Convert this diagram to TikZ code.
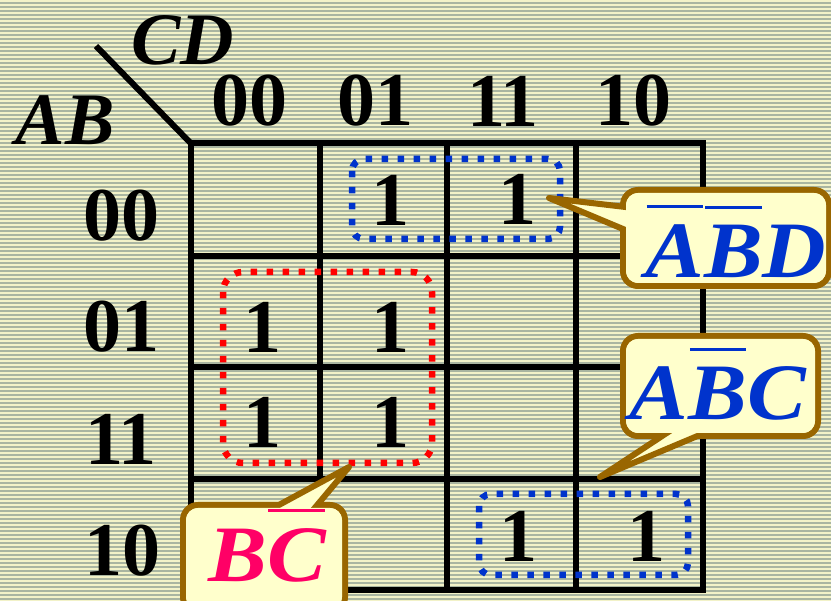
\documentclass[tikz,border=0pt]{standalone}
\usepackage{fontspec}
\usepackage{graphicx}
\setmainfont{Liberation Serif}
\usetikzlibrary{positioning,calc}

\definecolor{bgcream}{HTML}{F2F2C8}
\definecolor{bgstripe}{HTML}{A9B5A1}
\definecolor{callfill}{HTML}{FFFFCC}
\definecolor{callborder}{HTML}{996600}
\definecolor{grpblue}{HTML}{0033CC}
\definecolor{grpred}{HTML}{FF0000}
\definecolor{termpink}{HTML}{FF0066}

\newcommand{\kfont}{\fontsize{76}{80}\selectfont\bfseries}
\newcommand{\tfont}{\fontsize{80}{84}\selectfont\bfseries\itshape}
% bar over one letter, raised well above it
\newcommand{\ovl}[1]{\setbox0=\hbox{#1}\rlap{\raise\dimexpr\ht0+17pt\relax\hbox{\kern1pt\rule{\dimexpr\wd0-2pt\relax}{3pt}}}\box0}
\newcommand{\wideterm}[1]{\scalebox{1.1}[1]{#1}}

\begin{document}
\begin{tikzpicture}[
  x=1pt,y=-1pt,
  gridline/.style={line width=6pt,black},
  cellval/.style={font=\kfont,inner sep=0pt},
  varlabel/.style={font=\fontsize{74}{78}\selectfont\bfseries\itshape,inner sep=0pt},
  term/.style={font=\tfont,inner sep=0pt,anchor=base},
  bluegroup/.style={grpblue,line width=6.5pt,dash pattern=on 6.5pt off 9.5pt,rounded corners=12pt},
  redgroup/.style={grpred,line width=6.5pt,dash pattern=on 6.5pt off 9.5pt,rounded corners=20pt},
  callout/.style={fill=callfill,draw=callborder,line width=6pt,rounded corners=15pt},
  pointer/.style={fill=callfill,draw=callborder,line width=6pt,line join=round},
  calloutinner/.style={fill=callfill,rounded corners=12pt}
]

\useasboundingbox (0,0) rectangle (831,601);
\clip (0,0) rectangle (831,601);

% ===== BACKGROUND =====
\fill[bgcream] (0,0) rectangle (831,601);
\foreach \k in {0,...,150} {
  \fill[bgstripe] (0,4*\k+2) rectangle (831,4*\k+3.6);
}

% ===== MAP GRID =====
\draw[gridline] (96,46) -- (191,143.5);
\draw[gridline] (191,143.5) rectangle (703,590);
\foreach \x in {320,447,576} {
  \draw[gridline] (\x,143.5) -- (\x,590);
}
\foreach \y in {256,367,479} {
  \draw[gridline] (191,\y) -- (703,\y);
}

% ===== VARIABLE LABELS =====
\node[varlabel] (cd) at (183,40) {CD};
\node[varlabel] (ab) at (65,120) {AB};

\node[cellval] (hdr00) at (249,101) {00};
\node[cellval] (hdr01) at (375,101) {01};
\node[cellval] (hdr11) at (503,101) {11};
\node[cellval] (hdr10) at (633,101) {10};

\node[cellval] (row00) at (121,216) {00};
\node[cellval] (row01) at (121,327) {01};
\node[cellval] (row11) at (121,439) {11};
\node[cellval] (row10) at (122,551) {10};

% ===== ONES =====
\node[cellval] (m0001) at (390,200) {1};
\node[cellval] (m0011) at (517,199) {1};
\node[cellval] (m0100) at (262,327) {1};
\node[cellval] (m0101) at (390,327) {1};
\node[cellval] (m1100) at (262,422) {1};
\node[cellval] (m1101) at (390,422) {1};
\node[cellval] (m1011) at (518,536) {1};
\node[cellval] (m1010) at (646,536) {1};

% ===== GROUPS =====
\draw[bluegroup] (352,159) rectangle (560,239);
\draw[redgroup] (223,272) rectangle (432,463);
\draw[bluegroup] (479,494) rectangle (688,575);

% ===== CALLOUTS =====
\coordinate (tipabd) at (549,198);
\coordinate (tipabc) at (600,477);
\coordinate (tipbc) at (349,467);

% A'B'D
\draw[callout] (623,190) rectangle (829,286);
\filldraw[pointer] (645,209.3) -- (tipabd) -- (645,238.2);
\fill[calloutinner] (626,193) rectangle (826,283);
\node[term,grpblue] (abd) at (736,278) {\wideterm{\ovl{A}\ovl{B}D}};

% AB'C
\draw[callout] (623,336) rectangle (818,436);
\filldraw[pointer] (692.5,416) -- (tipabc) -- (745,416);
\fill[calloutinner] (626,339) rectangle (815,433);
\node[term,grpblue] (abc) at (718,420) {\wideterm{A\ovl{B}C}};

% BC'
\draw[callout] (183,505) rectangle (345,612);
\filldraw[pointer] (242,525) -- (tipbc) -- (300.5,525);
\fill[calloutinner] (186,508) rectangle (342,609);
\node[term,termpink] (bc) at (267,582) {\wideterm{B\ovl{C}}};

\end{tikzpicture}
\end{document}
